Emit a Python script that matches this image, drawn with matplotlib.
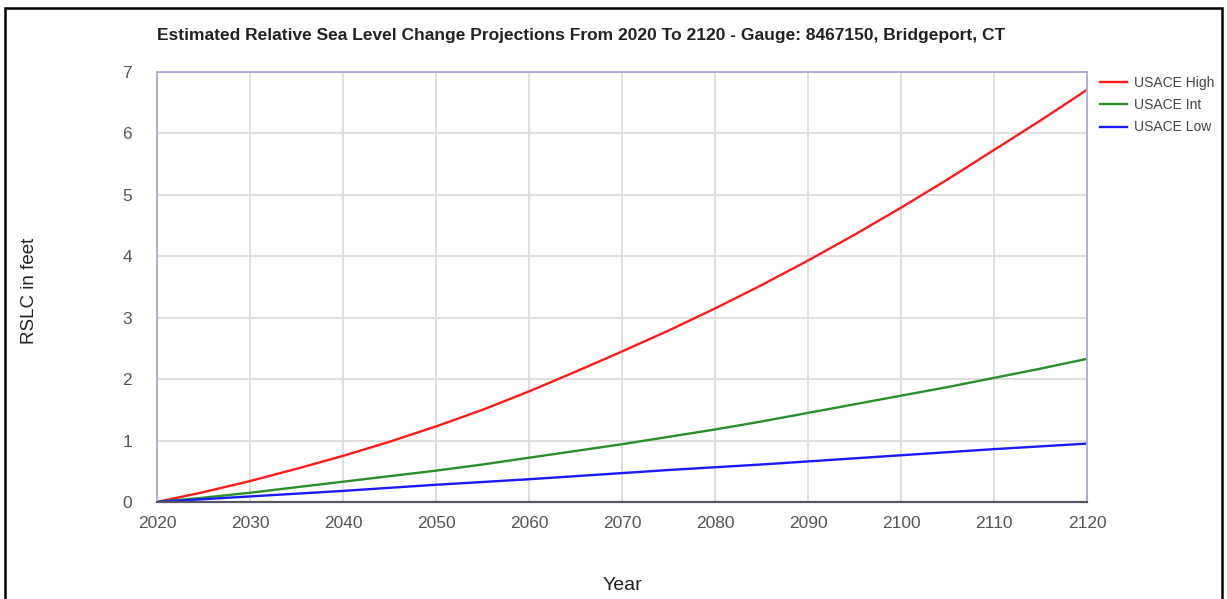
import matplotlib
matplotlib.use('Agg')
import matplotlib.pyplot as plt
from matplotlib.patches import Rectangle

plt.rcParams['font.family'] = ['Liberation Sans', 'DejaVu Sans']

# projection years and RSLC values (feet)
years = [2020, 2025, 2030, 2035, 2040, 2045, 2050, 2055, 2060, 2065, 2070,
         2075, 2080, 2085, 2090, 2095, 2100, 2105, 2110, 2115, 2120]
usace_high = [0.0, 0.16, 0.34, 0.54, 0.75, 0.98, 1.23, 1.50, 1.80, 2.12, 2.45,
              2.79, 3.15, 3.53, 3.93, 4.35, 4.79, 5.25, 5.73, 6.21, 6.71]
usace_int = [0.0, 0.07, 0.15, 0.24, 0.33, 0.42, 0.51, 0.61, 0.72, 0.83, 0.94,
             1.06, 1.18, 1.31, 1.45, 1.59, 1.73, 1.87, 2.02, 2.17, 2.33]
usace_low = [0.0, 0.045, 0.09, 0.135, 0.18, 0.23, 0.28, 0.325, 0.37, 0.42, 0.47,
             0.52, 0.565, 0.61, 0.66, 0.71, 0.76, 0.81, 0.86, 0.905, 0.95]

x_ticks = list(range(2020, 2121, 10))
y_ticks = list(range(0, 8))

title = 'Estimated Relative Sea Level Change Projections From 2020 To 2120 - Gauge: 8467150, Bridgeport, CT'

fig = plt.figure(figsize=(12.27, 5.99), dpi=100)
ax = fig.add_axes([0.128, 0.162, 0.758, 0.718])

ax.plot(years, usace_high, color='#ff1a1a', lw=1.7, label='USACE High')
ax.plot(years, usace_int, color='#2a8f2a', lw=1.7, label='USACE Int')
ax.plot(years, usace_low, color='#1a1aff', lw=1.7, label='USACE Low')

ax.set_xlim(2020, 2120)
ax.set_ylim(0, 7)
ax.set_xticks(x_ticks)
ax.set_yticks(y_ticks)
ax.grid(True, color='#dcdcdc', lw=1.3)
ax.set_axisbelow(True)
ax.tick_params(length=0, labelsize=12.5, labelcolor='#555555')
ax.tick_params(axis='x', pad=10)
ax.tick_params(axis='y', pad=18)

for side in ['left', 'top', 'right']:
    ax.spines[side].set_color('#a9a9dc')
    ax.spines[side].set_linewidth(1.3)
ax.spines['bottom'].set_color('#555566')
ax.spines['bottom'].set_linewidth(1.6)

ax.set_xlabel('Year', fontsize=14, color='#222222', labelpad=33)
ax.set_ylabel('RSLC in feet', fontsize=13.5, color='#222222')
ax.yaxis.set_label_coords(-0.128, 0.49)

fig.text(0.128, 0.94, title, fontsize=12.5, fontweight='bold', color='#222222',
         ha='left', va='center')

ax.legend(loc='upper left', bbox_to_anchor=(1.0, 1.02), frameon=False,
          fontsize=10, labelcolor='#444444', handlelength=2.0,
          handletextpad=0.45, labelspacing=0.6)

# outer frame of the screenshot
fig.patches.append(Rectangle((5 / 1227, -0.1), 1217 / 1227, 1.1 - 8 / 599,
                             transform=fig.transFigure, fill=False,
                             ec='black', lw=1.8))

fig.savefig('out.png', dpi=100)
